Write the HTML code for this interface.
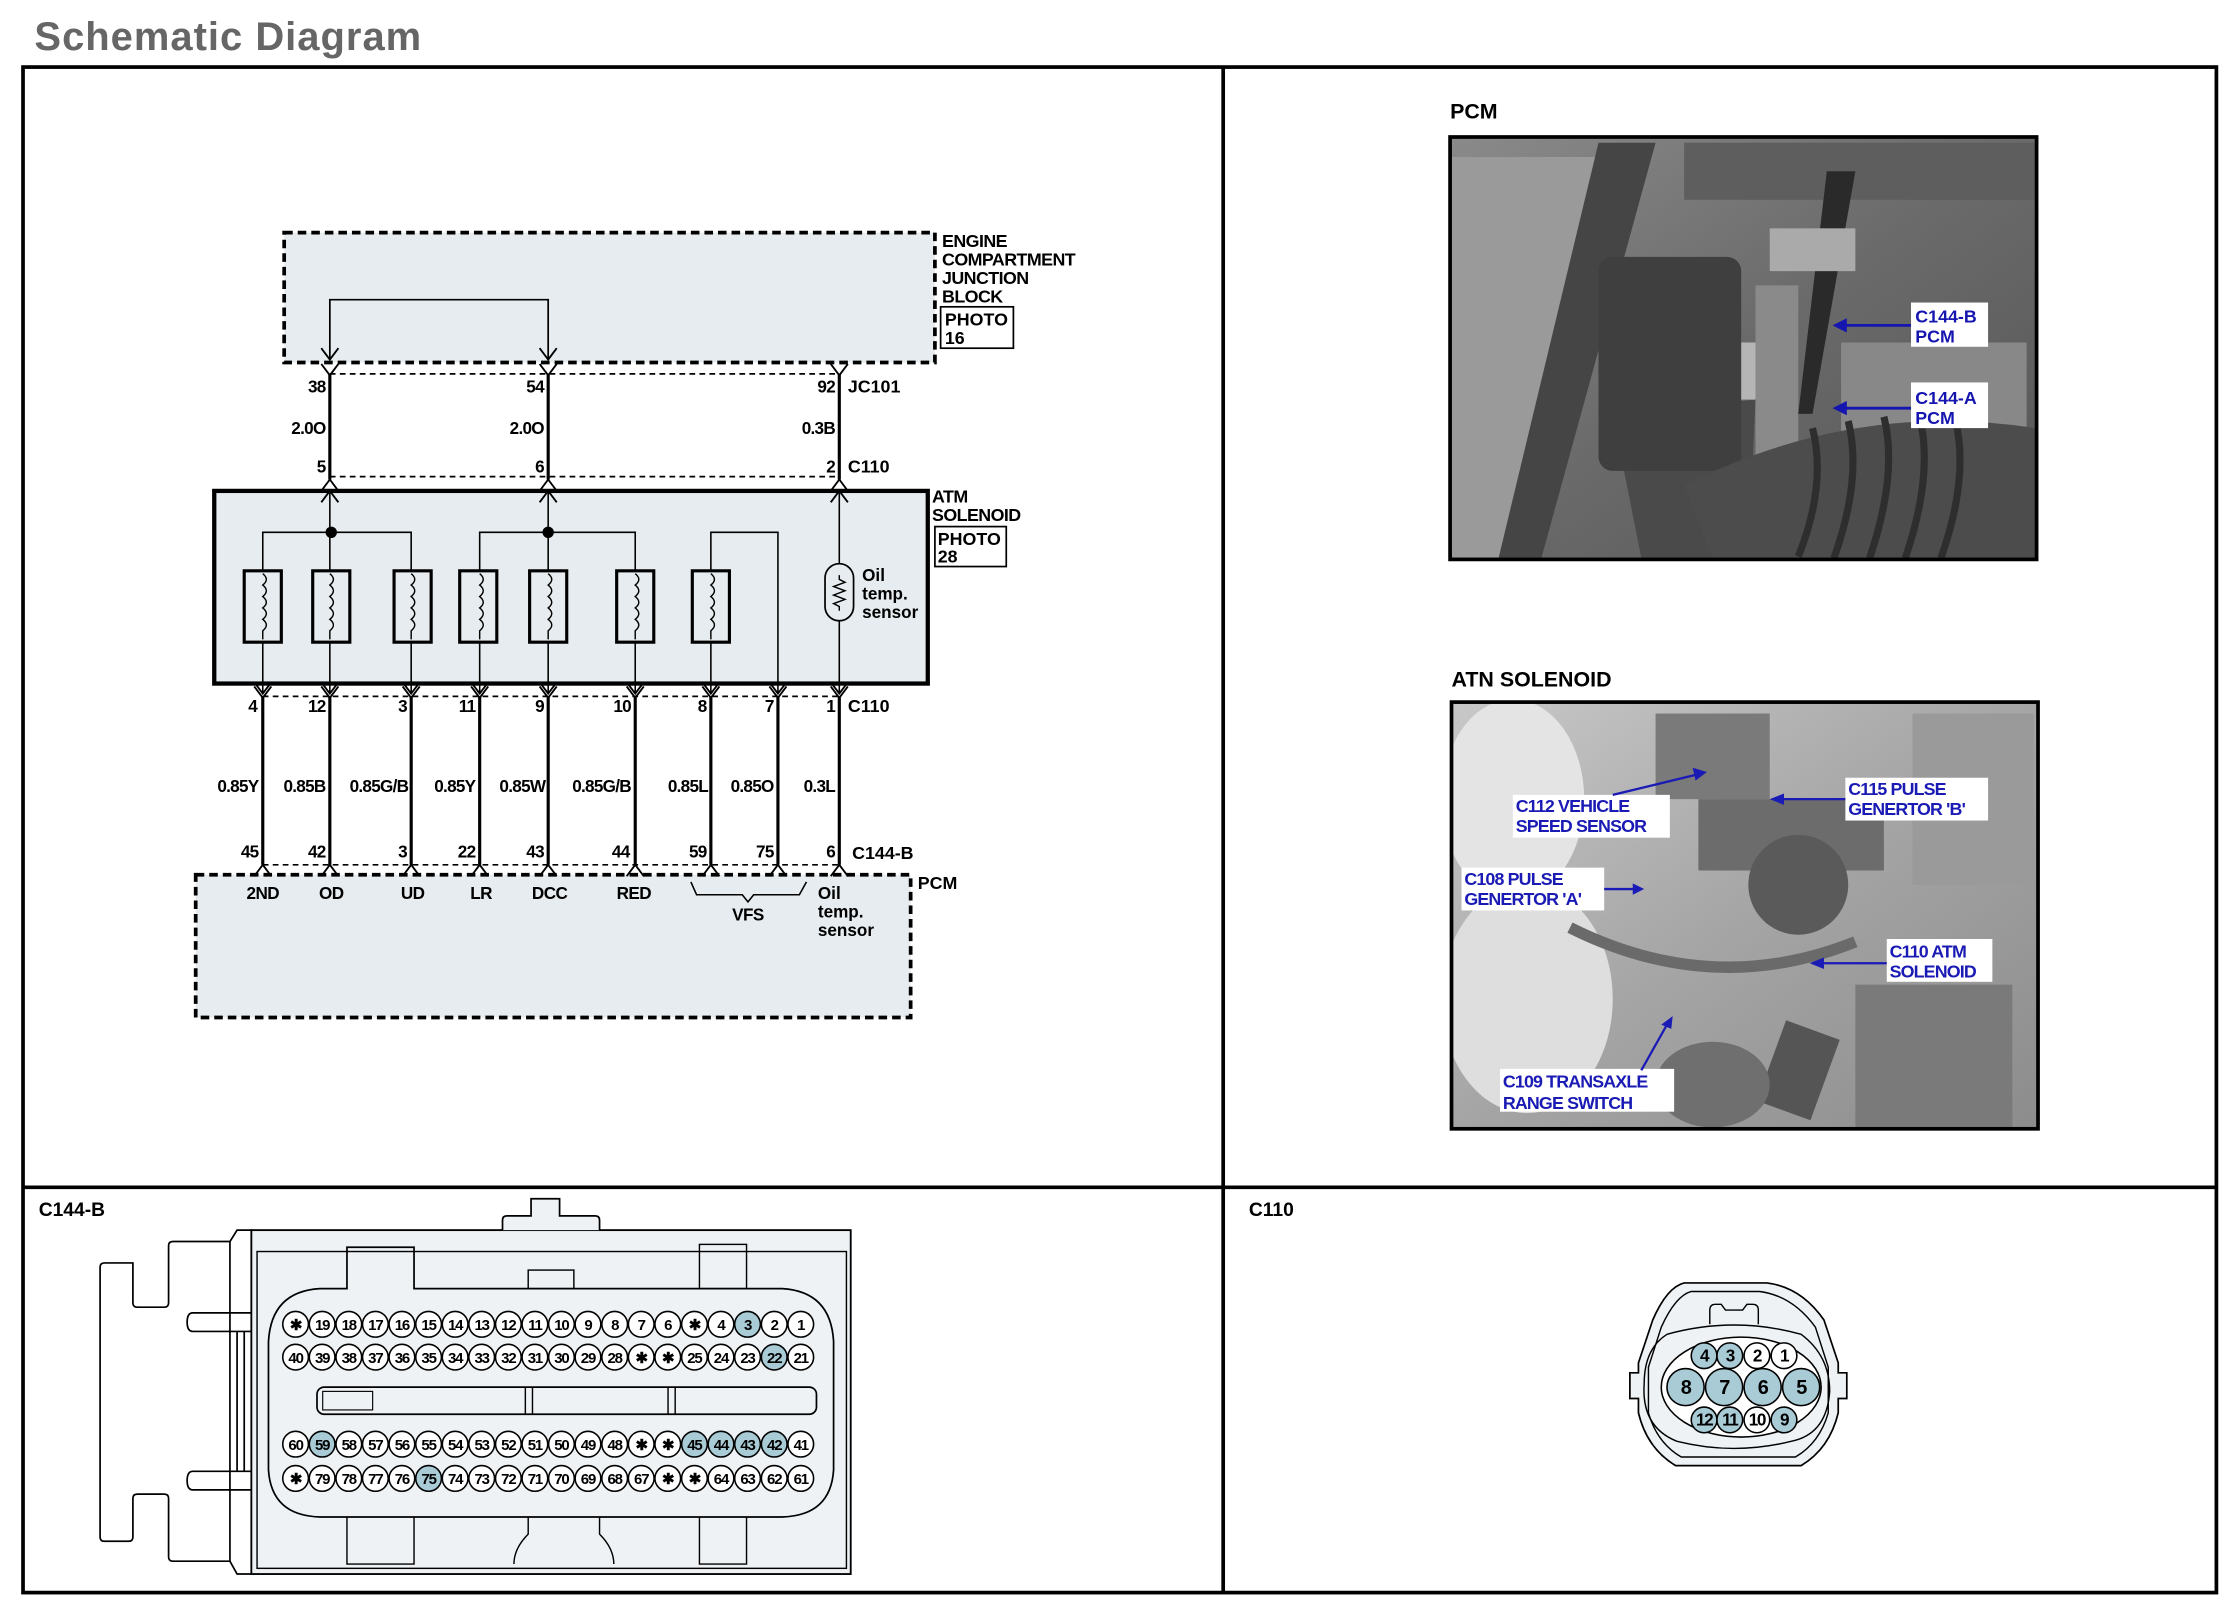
<!DOCTYPE html>
<html><head><meta charset="utf-8"><style>
html,body{margin:0;padding:0;background:#fff;}
svg{display:block;}
</style></head><body>
<svg xmlns="http://www.w3.org/2000/svg" width="2238" height="1614" viewBox="0 0 1568 1131" font-family="Liberation Sans, sans-serif" font-weight="bold">
<rect x="0" y="0" width="1568" height="1131" fill="#fff"/>
<text x="24" y="35" font-size="28" fill="#666" textLength="271">Schematic Diagram</text>
<!-- frames -->
<rect x="16" y="47" width="1537" height="1069" fill="none" stroke="#000" stroke-width="2.6"/>
<line x1="857" y1="47" x2="857" y2="1116" stroke="#000" stroke-width="2.6"/>
<line x1="16" y1="832" x2="1553" y2="832" stroke="#000" stroke-width="2.6"/>

<!-- Junction block -->
<rect x="199" y="163" width="456" height="91" fill="#e6ecef" stroke="#000" stroke-width="2.6" stroke-dasharray="6,3.5"/>
<g font-size="12.5" letter-spacing="-0.4">
<text x="660" y="173">ENGINE</text><text x="660" y="186">COMPARTMENT</text><text x="660" y="199">JUNCTION</text><text x="660" y="212">BLOCK</text>
</g>
<rect x="659" y="215" width="51" height="29" fill="#fff" stroke="#000" stroke-width="1.2"/>
<text x="662" y="228" font-size="12.5">PHOTO</text><text x="662" y="241" font-size="12.5">16</text>
<polyline points="231,252 231,210 384,210 384,252" fill="none" stroke="#000" stroke-width="1.2"/>
<g fill="none" stroke="#000" stroke-width="1.3">
<polyline points="225,244 231,252 237,244"/><polyline points="378,244 384,252 390,244"/>
<polyline points="225,255 231,263 237,255"/><polyline points="378,255 384,263 390,255"/><polyline points="582,255 588,263 594,255"/>
</g>
<line x1="231" y1="262" x2="588" y2="262" stroke="#000" stroke-width="1.2" stroke-dasharray="4,3"/>
<g stroke="#000" stroke-width="2.2"><line x1="231" y1="262" x2="231" y2="336"/><line x1="384" y1="262" x2="384" y2="336"/><line x1="588" y1="262" x2="588" y2="336"/></g>
<g font-size="12" text-anchor="end" letter-spacing="-0.5">
<text x="228" y="275">38</text><text x="381" y="275">54</text><text x="585" y="275">92</text>
<text x="228" y="304">2.0O</text><text x="381" y="304">2.0O</text><text x="585" y="304">0.3B</text>
<text x="228" y="331">5</text><text x="381" y="331">6</text><text x="585" y="331">2</text>
</g>
<text x="594" y="275" font-size="12.5">JC101</text>
<text x="594" y="331" font-size="12.5">C110</text>
<line x1="231" y1="334" x2="588" y2="334" stroke="#000" stroke-width="1.2" stroke-dasharray="4,3"/>

<!-- ATM solenoid -->
<rect x="150" y="344" width="500" height="135" fill="#e6ecef" stroke="#000" stroke-width="3"/>
<g fill="none" stroke="#000" stroke-width="1.3">
<polyline points="225,344 231,336 237,344"/><polyline points="378,344 384,336 390,344"/><polyline points="582,344 588,336 594,344"/>
<polyline points="225,352 231,344 237,352"/><polyline points="378,352 384,344 390,352"/><polyline points="582,352 588,344 594,352"/>
</g>
<g font-size="12.5" letter-spacing="-0.4"><text x="653" y="352">ATM</text><text x="653" y="365">SOLENOID</text></g>
<rect x="655" y="369" width="50" height="28" fill="#fff" stroke="#000" stroke-width="1.2"/>
<text x="657" y="382" font-size="12.5">PHOTO</text><text x="657" y="394" font-size="12.5">28</text>
<g fill="none" stroke="#000" stroke-width="1.1">
<line x1="231" y1="344" x2="231" y2="400"/><line x1="384" y1="344" x2="384" y2="400"/>
<polyline points="184,400 184,373 288,373 288,400"/>
<polyline points="336,400 336,373 445,373 445,400"/>
<polyline points="498,400 498,373 545,373 545,486"/>
<line x1="184" y1="450" x2="184" y2="486"/><line x1="231" y1="450" x2="231" y2="486"/><line x1="288" y1="450" x2="288" y2="486"/><line x1="336" y1="450" x2="336" y2="486"/><line x1="384" y1="450" x2="384" y2="486"/><line x1="445" y1="450" x2="445" y2="486"/><line x1="498" y1="450" x2="498" y2="486"/>
<line x1="588" y1="344" x2="588" y2="486"/>
</g>
<circle cx="232" cy="373" r="4"/><circle cx="384" cy="373" r="4"/>
<g fill="#e6ecef" stroke="#000" stroke-width="2.2">
<rect x="171" y="400" width="26" height="50"/><rect x="219" y="400" width="26" height="50"/><rect x="276" y="400" width="26" height="50"/><rect x="322" y="400" width="26" height="50"/><rect x="371" y="400" width="26" height="50"/><rect x="432" y="400" width="26" height="50"/><rect x="485" y="400" width="26" height="50"/>
</g>
<g fill="none" stroke="#000" stroke-width="1" id="coil">
<path d="M184,402 q5,4 0,8 q5,4 0,8 q5,4 0,8 q5,4 0,8 q5,4 0,8 v6"/>
<path d="M231,402 q5,4 0,8 q5,4 0,8 q5,4 0,8 q5,4 0,8 q5,4 0,8 v6"/>
<path d="M288,402 q5,4 0,8 q5,4 0,8 q5,4 0,8 q5,4 0,8 q5,4 0,8 v6"/>
<path d="M336,402 q5,4 0,8 q5,4 0,8 q5,4 0,8 q5,4 0,8 q5,4 0,8 v6"/>
<path d="M384,402 q5,4 0,8 q5,4 0,8 q5,4 0,8 q5,4 0,8 q5,4 0,8 v6"/>
<path d="M445,402 q5,4 0,8 q5,4 0,8 q5,4 0,8 q5,4 0,8 q5,4 0,8 v6"/>
<path d="M498,402 q5,4 0,8 q5,4 0,8 q5,4 0,8 q5,4 0,8 q5,4 0,8 v6"/>
</g>
<rect x="578" y="395" width="20" height="40" rx="10" fill="#e6ecef" stroke="#000" stroke-width="1.2"/>
<polyline points="588,403 588,406 592,408 584,411 592,414 584,417 592,420 584,423 588,425 588,428" fill="none" stroke="#000" stroke-width="1"/>
<g font-size="12" font-weight="normal" style="font-weight:bold"><text x="604" y="407">Oil</text><text x="604" y="420">temp.</text><text x="604" y="433">sensor</text></g>
<g fill="none" stroke="#000" stroke-width="1.3">
<polyline points="178,478 184,486 190,478"/><polyline points="225,478 231,486 237,478"/><polyline points="282,478 288,486 294,478"/><polyline points="330,478 336,486 342,478"/><polyline points="378,478 384,486 390,478"/><polyline points="439,478 445,486 451,478"/><polyline points="492,478 498,486 504,478"/><polyline points="539,478 545,486 551,478"/><polyline points="582,478 588,486 594,478"/>
<polyline points="178,481 184,489 190,481"/><polyline points="225,481 231,489 237,481"/><polyline points="282,481 288,489 294,481"/><polyline points="330,481 336,489 342,481"/><polyline points="378,481 384,489 390,481"/><polyline points="439,481 445,489 451,481"/><polyline points="492,481 498,489 504,481"/><polyline points="539,481 545,489 551,481"/><polyline points="582,481 588,489 594,481"/>
</g>
<line x1="184" y1="488" x2="588" y2="488" stroke="#000" stroke-width="1.2" stroke-dasharray="4,3"/>
<g stroke="#000" stroke-width="2.2">
<line x1="184" y1="488" x2="184" y2="606"/><line x1="231" y1="488" x2="231" y2="606"/><line x1="288" y1="488" x2="288" y2="606"/><line x1="336" y1="488" x2="336" y2="606"/><line x1="384" y1="488" x2="384" y2="606"/><line x1="445" y1="488" x2="445" y2="606"/><line x1="498" y1="488" x2="498" y2="606"/><line x1="545" y1="488" x2="545" y2="606"/><line x1="588" y1="488" x2="588" y2="606"/>
</g>
<g font-size="12" text-anchor="end" letter-spacing="-0.5">
<text x="180" y="499">4</text><text x="228" y="499">12</text><text x="285" y="499">3</text><text x="333" y="499">11</text><text x="381" y="499">9</text><text x="442" y="499">10</text><text x="495" y="499">8</text><text x="542" y="499">7</text><text x="585" y="499">1</text>
<text x="181" y="555">0.85Y</text><text x="228" y="555">0.85B</text><text x="286" y="555">0.85G/B</text><text x="333" y="555">0.85Y</text><text x="382" y="555">0.85W</text><text x="442" y="555">0.85G/B</text><text x="496" y="555">0.85L</text><text x="542" y="555">0.85O</text><text x="585" y="555">0.3L</text>
<text x="181" y="601">45</text><text x="228" y="601">42</text><text x="285" y="601">3</text><text x="333" y="601">22</text><text x="381" y="601">43</text><text x="441" y="601">44</text><text x="495" y="601">59</text><text x="542" y="601">75</text><text x="585" y="601">6</text>
</g>
<text x="594" y="499" font-size="12.5">C110</text>
<text x="597" y="602" font-size="12.5">C144-B</text>
<line x1="184" y1="606" x2="588" y2="606" stroke="#000" stroke-width="1.2" stroke-dasharray="4,3"/>

<!-- PCM -->
<rect x="137" y="613" width="501" height="100" fill="#e6ecef" stroke="#000" stroke-width="2.6" stroke-dasharray="6,3.5"/>
<g fill="none" stroke="#000" stroke-width="1.3">
<polyline points="178,614 184,606 190,614"/><polyline points="225,614 231,606 237,614"/><polyline points="282,614 288,606 294,614"/><polyline points="330,614 336,606 342,614"/><polyline points="378,614 384,606 390,614"/><polyline points="439,614 445,606 451,614"/><polyline points="492,614 498,606 504,614"/><polyline points="539,614 545,606 551,614"/><polyline points="582,614 588,606 594,614"/>
</g>
<text x="643" y="623" font-size="12.5">PCM</text>
<g font-size="12" text-anchor="middle" letter-spacing="-0.4">
<text x="184" y="630">2ND</text><text x="232" y="630">OD</text><text x="289" y="630">UD</text><text x="337" y="630">LR</text><text x="385" y="630">DCC</text><text x="444" y="630">RED</text><text x="524" y="645">VFS</text>
</g>
<polyline points="484,618 488,627 520,627 524,632 528,627 560,627 565,618" fill="none" stroke="#000" stroke-width="1.1"/>
<g font-size="12"><text x="573" y="630">Oil</text><text x="573" y="643">temp.</text><text x="573" y="656">sensor</text></g>

<!-- PCM photo -->
<text x="1016" y="83" font-size="15">PCM</text>
<defs>
<linearGradient id="g1" x1="0" y1="0" x2="1" y2="1"><stop offset="0" stop-color="#8a8a8a"/><stop offset="0.5" stop-color="#6a6a6a"/><stop offset="1" stop-color="#555"/></linearGradient>
<linearGradient id="g2" x1="0" y1="0" x2="1" y2="1"><stop offset="0" stop-color="#c8c8c8"/><stop offset="0.5" stop-color="#a5a5a5"/><stop offset="1" stop-color="#8c8c8c"/></linearGradient>
<clipPath id="c1"><rect x="1017" y="97" width="409" height="294"/></clipPath>
<clipPath id="c2"><rect x="1018" y="493" width="409" height="297"/></clipPath>
</defs>
<g clip-path="url(#c1)">
<rect x="1016" y="96" width="411" height="296" fill="url(#g1)"/>
<polygon points="1017,110 1130,110 1060,391 1017,391" fill="#9a9a9a"/>
<polygon points="1120,100 1160,100 1080,391 1050,391" fill="#454545"/>
<rect x="1180" y="100" width="246" height="40" fill="#5e5e5e"/>
<polygon points="1130,290 1230,280 1225,391 1150,391" fill="#4a4a4a"/>
<rect x="1190" y="240" width="60" height="40" fill="#b5b5b5"/>
<rect x="1230" y="200" width="30" height="120" fill="#8a8a8a"/>
<path d="M1280,120 l20,0 l-30,170 l-10,0z" fill="#2a2a2a"/>
<rect x="1120" y="180" width="100" height="150" rx="10" fill="#3f3f3f"/>
<rect x="1290" y="240" width="130" height="80" fill="#888"/>
<path d="M1180,340 Q1300,280 1426,300 L1426,391 L1200,391 Z" fill="#4c4c4c"/>
<g stroke="#2e2e2e" stroke-width="5" fill="none"><path d="M1270,300 q10,40 -10,90"/><path d="M1295,295 q10,40 -10,96"/><path d="M1320,292 q10,40 -10,99"/><path d="M1345,292 q10,40 -10,99"/><path d="M1370,294 q10,40 -10,97"/></g>
<rect x="1240" y="160" width="60" height="30" fill="#aaa"/>
</g>
<rect x="1016" y="96" width="411" height="296" fill="none" stroke="#000" stroke-width="2.6"/>
<rect x="1339" y="212" width="54" height="31" fill="#fff"/>
<rect x="1339" y="268" width="54" height="32" fill="#fff"/>
<g fill="#1515b0" font-size="12.5"><text x="1342" y="226">C144-B</text><text x="1342" y="240">PCM</text><text x="1342" y="283">C144-A</text><text x="1342" y="297">PCM</text></g>
<g stroke="#1515b0" stroke-width="2"><line x1="1339" y1="228" x2="1292" y2="228"/><line x1="1339" y1="286" x2="1292" y2="286"/></g>
<g fill="#1515b0"><polygon points="1284,228 1294,223 1294,233"/><polygon points="1284,286 1294,281 1294,291"/></g>

<!-- ATN photo -->
<text x="1017" y="481" font-size="15">ATN SOLENOID</text>
<g clip-path="url(#c2)">
<rect x="1017" y="492" width="411" height="299" fill="url(#g2)"/>
<ellipse cx="1060" cy="560" rx="50" ry="70" fill="#e4e4e4"/>
<ellipse cx="1070" cy="700" rx="60" ry="80" fill="#dedede"/>
<rect x="1160" y="500" width="80" height="60" fill="#7a7a7a"/>
<rect x="1190" y="560" width="130" height="50" fill="#6c6c6c"/>
<circle cx="1260" cy="620" r="35" fill="#5a5a5a"/>
<rect x="1300" y="690" width="110" height="100" fill="#7a7a7a"/>
<rect x="1240" y="720" width="40" height="60" fill="#555" transform="rotate(20 1260 750)"/>
<rect x="1340" y="500" width="85" height="120" fill="#9a9a9a"/>
<path d="M1100,650 Q1200,700 1300,660" stroke="#6a6a6a" stroke-width="8" fill="none"/>
<ellipse cx="1200" cy="760" rx="40" ry="30" fill="#6f6f6f"/>
</g>
<rect x="1017" y="492" width="411" height="299" fill="none" stroke="#000" stroke-width="2.6"/>
<g fill="#fff">
<rect x="1060" y="557" width="110" height="30"/><rect x="1293" y="545" width="100" height="30"/><rect x="1024" y="608" width="100" height="30"/><rect x="1322" y="658" width="74" height="30"/><rect x="1051" y="749" width="122" height="30"/>
</g>
<g fill="#1a1ab5" font-size="12.5" letter-spacing="-0.6">
<text x="1062" y="569">C112 VEHICLE</text><text x="1062" y="583">SPEED SENSOR</text>
<text x="1295" y="557">C115 PULSE</text><text x="1295" y="571">GENERTOR 'B'</text>
<text x="1026" y="620">C108 PULSE</text><text x="1026" y="634">GENERTOR 'A'</text>
<text x="1324" y="671">C110 ATM</text><text x="1324" y="685">SOLENOID</text>
<text x="1053" y="762">C109 TRANSAXLE</text><text x="1053" y="777">RANGE SWITCH</text>
</g>
<g stroke="#1a1ab5" stroke-width="1.6"><line x1="1130" y1="557" x2="1188" y2="543"/><line x1="1293" y1="560" x2="1248" y2="560"/><line x1="1124" y1="623" x2="1145" y2="623"/><line x1="1322" y1="675" x2="1276" y2="675"/><line x1="1150" y1="750" x2="1168" y2="718"/></g>
<g fill="#1a1ab5"><polygon points="1196,541 1186,538 1188,547"/><polygon points="1240,560 1250,556 1250,564"/><polygon points="1152,623 1144,619 1144,627"/><polygon points="1268,675 1278,671 1278,679"/><polygon points="1172,712 1164,718 1171,721"/></g>

<!-- C144-B connector -->
<text x="27" y="852" font-size="13.5">C144-B</text>
<g fill="none" stroke="#000" stroke-width="1.2">
<path d="M73,885 H93 V913 Q93,916 96,916 H115 Q118,916 118,913 V873 Q118,870 121,870 H161 L166,862 H176 V1103 H166 L161,1094 H121 Q118,1094 118,1091 V1050 Q118,1047 115,1047 H96 Q93,1047 93,1050 V1077 Q93,1080 90,1080 H73 Q70,1080 70,1077 V888 Q70,885 73,885 Z"/>
<path d="M176,920 H135 Q131,920 131,926.5 Q131,933 135,933 H176"/>
<path d="M176,1031 H135 Q131,1031 131,1037.5 Q131,1044 135,1044 H176"/>
<line x1="161" y1="870" x2="161" y2="1094"/>
<line x1="166" y1="933" x2="166" y2="1031"/><line x1="171" y1="933" x2="171" y2="1031"/>
</g>
<rect x="176" y="862" width="420" height="241" fill="#eef2f4" stroke="#000" stroke-width="1.3"/>
<rect x="180" y="877" width="413" height="222" fill="none" stroke="#000" stroke-width="1"/>
<path d="M352,862 V855 Q352,852 355,852 H372 V840 H392 V852 H417 Q420,852 420,855 V862" fill="#eef2f4" stroke="#000" stroke-width="1.2"/>
<path d="M224,903 Q190,905 188,940 V1030 Q190,1062 224,1063 H548 Q582,1062 584,1030 V940 Q582,905 548,903 H290 V874 H243 V903 Z" fill="none" stroke="#000" stroke-width="1.2"/>
<rect x="370" y="890" width="32" height="13" fill="none" stroke="#000" stroke-width="1"/>
<rect x="490" y="872" width="33" height="31" fill="none" stroke="#000" stroke-width="1"/>
<path d="M243,1063 V1096 H290 V1063 M370,1063 V1075 Q360,1085 360,1096 M420,1063 V1075 Q430,1085 430,1096 M490,1063 V1096 H523 V1063" fill="none" stroke="#000" stroke-width="1"/>
<rect x="222" y="972" width="350" height="19" rx="5" fill="none" stroke="#000" stroke-width="1.2"/>
<line x1="368" y1="972" x2="368" y2="991" stroke="#000"/><line x1="373" y1="972" x2="373" y2="991" stroke="#000"/>
<line x1="468" y1="972" x2="468" y2="991" stroke="#000"/><line x1="473" y1="972" x2="473" y2="991" stroke="#000"/>
<rect x="226" y="975" width="35" height="13" fill="none" stroke="#000" stroke-width="0.8"/>
<g stroke="#000" stroke-width="1.1" font-size="10.5" text-anchor="middle" letter-spacing="-0.8">
<g fill="#fff">
<circle cx="207" cy="928" r="9"/><circle cx="225.6" cy="928" r="9"/><circle cx="244.3" cy="928" r="9"/><circle cx="262.9" cy="928" r="9"/><circle cx="281.5" cy="928" r="9"/><circle cx="300.2" cy="928" r="9"/><circle cx="318.8" cy="928" r="9"/><circle cx="337.4" cy="928" r="9"/><circle cx="356.1" cy="928" r="9"/><circle cx="374.7" cy="928" r="9"/><circle cx="393.3" cy="928" r="9"/><circle cx="411.9" cy="928" r="9"/><circle cx="430.6" cy="928" r="9"/><circle cx="449.2" cy="928" r="9"/><circle cx="467.8" cy="928" r="9"/><circle cx="486.5" cy="928" r="9"/><circle cx="505.1" cy="928" r="9"/><circle cx="523.7" cy="928" r="9" fill="#a9cbd6"/><circle cx="542.4" cy="928" r="9"/><circle cx="561" cy="928" r="9"/>
<circle cx="207" cy="951" r="9"/><circle cx="225.6" cy="951" r="9"/><circle cx="244.3" cy="951" r="9"/><circle cx="262.9" cy="951" r="9"/><circle cx="281.5" cy="951" r="9"/><circle cx="300.2" cy="951" r="9"/><circle cx="318.8" cy="951" r="9"/><circle cx="337.4" cy="951" r="9"/><circle cx="356.1" cy="951" r="9"/><circle cx="374.7" cy="951" r="9"/><circle cx="393.3" cy="951" r="9"/><circle cx="411.9" cy="951" r="9"/><circle cx="430.6" cy="951" r="9"/><circle cx="449.2" cy="951" r="9"/><circle cx="467.8" cy="951" r="9"/><circle cx="486.5" cy="951" r="9"/><circle cx="505.1" cy="951" r="9"/><circle cx="523.7" cy="951" r="9"/><circle cx="542.4" cy="951" r="9" fill="#a9cbd6"/><circle cx="561" cy="951" r="9"/>
<circle cx="207" cy="1012" r="9"/><circle cx="225.6" cy="1012" r="9" fill="#a9cbd6"/><circle cx="244.3" cy="1012" r="9"/><circle cx="262.9" cy="1012" r="9"/><circle cx="281.5" cy="1012" r="9"/><circle cx="300.2" cy="1012" r="9"/><circle cx="318.8" cy="1012" r="9"/><circle cx="337.4" cy="1012" r="9"/><circle cx="356.1" cy="1012" r="9"/><circle cx="374.7" cy="1012" r="9"/><circle cx="393.3" cy="1012" r="9"/><circle cx="411.9" cy="1012" r="9"/><circle cx="430.6" cy="1012" r="9"/><circle cx="449.2" cy="1012" r="9"/><circle cx="467.8" cy="1012" r="9"/><circle cx="486.5" cy="1012" r="9" fill="#a9cbd6"/><circle cx="505.1" cy="1012" r="9" fill="#a9cbd6"/><circle cx="523.7" cy="1012" r="9" fill="#a9cbd6"/><circle cx="542.4" cy="1012" r="9" fill="#a9cbd6"/><circle cx="561" cy="1012" r="9"/>
<circle cx="207" cy="1036" r="9"/><circle cx="225.6" cy="1036" r="9"/><circle cx="244.3" cy="1036" r="9"/><circle cx="262.9" cy="1036" r="9"/><circle cx="281.5" cy="1036" r="9"/><circle cx="300.2" cy="1036" r="9" fill="#a9cbd6"/><circle cx="318.8" cy="1036" r="9"/><circle cx="337.4" cy="1036" r="9"/><circle cx="356.1" cy="1036" r="9"/><circle cx="374.7" cy="1036" r="9"/><circle cx="393.3" cy="1036" r="9"/><circle cx="411.9" cy="1036" r="9"/><circle cx="430.6" cy="1036" r="9"/><circle cx="449.2" cy="1036" r="9"/><circle cx="467.8" cy="1036" r="9"/><circle cx="486.5" cy="1036" r="9"/><circle cx="505.1" cy="1036" r="9"/><circle cx="523.7" cy="1036" r="9"/><circle cx="542.4" cy="1036" r="9"/><circle cx="561" cy="1036" r="9"/>
</g>
<g fill="#000" stroke="none">
<text x="207" y="932">✱</text><text x="225.6" y="932">19</text><text x="244.3" y="932">18</text><text x="262.9" y="932">17</text><text x="281.5" y="932">16</text><text x="300.2" y="932">15</text><text x="318.8" y="932">14</text><text x="337.4" y="932">13</text><text x="356.1" y="932">12</text><text x="374.7" y="932">11</text><text x="393.3" y="932">10</text><text x="411.9" y="932">9</text><text x="430.6" y="932">8</text><text x="449.2" y="932">7</text><text x="467.8" y="932">6</text><text x="486.5" y="932">✱</text><text x="505.1" y="932">4</text><text x="523.7" y="932">3</text><text x="542.4" y="932">2</text><text x="561" y="932">1</text>
<text x="207" y="955">40</text><text x="225.6" y="955">39</text><text x="244.3" y="955">38</text><text x="262.9" y="955">37</text><text x="281.5" y="955">36</text><text x="300.2" y="955">35</text><text x="318.8" y="955">34</text><text x="337.4" y="955">33</text><text x="356.1" y="955">32</text><text x="374.7" y="955">31</text><text x="393.3" y="955">30</text><text x="411.9" y="955">29</text><text x="430.6" y="955">28</text><text x="449.2" y="955">✱</text><text x="467.8" y="955">✱</text><text x="486.5" y="955">25</text><text x="505.1" y="955">24</text><text x="523.7" y="955">23</text><text x="542.4" y="955">22</text><text x="561" y="955">21</text>
<text x="207" y="1016">60</text><text x="225.6" y="1016">59</text><text x="244.3" y="1016">58</text><text x="262.9" y="1016">57</text><text x="281.5" y="1016">56</text><text x="300.2" y="1016">55</text><text x="318.8" y="1016">54</text><text x="337.4" y="1016">53</text><text x="356.1" y="1016">52</text><text x="374.7" y="1016">51</text><text x="393.3" y="1016">50</text><text x="411.9" y="1016">49</text><text x="430.6" y="1016">48</text><text x="449.2" y="1016">✱</text><text x="467.8" y="1016">✱</text><text x="486.5" y="1016">45</text><text x="505.1" y="1016">44</text><text x="523.7" y="1016">43</text><text x="542.4" y="1016">42</text><text x="561" y="1016">41</text>
<text x="207" y="1040">✱</text><text x="225.6" y="1040">79</text><text x="244.3" y="1040">78</text><text x="262.9" y="1040">77</text><text x="281.5" y="1040">76</text><text x="300.2" y="1040">75</text><text x="318.8" y="1040">74</text><text x="337.4" y="1040">73</text><text x="356.1" y="1040">72</text><text x="374.7" y="1040">71</text><text x="393.3" y="1040">70</text><text x="411.9" y="1040">69</text><text x="430.6" y="1040">68</text><text x="449.2" y="1040">67</text><text x="467.8" y="1040">✱</text><text x="486.5" y="1040">✱</text><text x="505.1" y="1040">64</text><text x="523.7" y="1040">63</text><text x="542.4" y="1040">62</text><text x="561" y="1040">61</text>
</g>
</g>

<!-- C110 connector -->
<text x="875" y="852" font-size="13.5">C110</text>
<path d="M1180,899 H1238 Q1262,902 1278,925 L1288,955 V962 H1294 V980 H1288 V990 Q1282,1015 1262,1027 H1174 Q1154,1015 1148,990 V980 H1142 V962 H1148 V955 L1158,925 Q1168,902 1180,899 Z" fill="#eef2f4" stroke="#000" stroke-width="1.2"/>
<path d="M1185,905 H1233 Q1256,908 1272,930 L1281,958 V990 Q1275,1011 1258,1021 H1178 Q1161,1011 1155,990 V958 L1164,930 Q1174,908 1185,905 Z" fill="none" stroke="#000" stroke-width="1"/>
<path d="M1198,928 V918 Q1198,914 1202,914 H1206 L1209,918 H1221 L1224,914 H1228 Q1232,914 1232,918 V928" fill="none" stroke="#000" stroke-width="1"/>
<path d="M1168,935 Q1215,922 1262,935 Q1282,950 1282,975 Q1280,1005 1255,1010 Q1215,1020 1175,1010 Q1150,1000 1152,970 Q1152,945 1168,935 Z" fill="none" stroke="#000" stroke-width="1"/>
<ellipse cx="1220" cy="972" rx="56" ry="35" fill="#fff" stroke="#000" stroke-width="1.1"/>
<g stroke="#000" stroke-width="1.1">
<g fill="#a9cbd6"><circle cx="1194" cy="950" r="9"/><circle cx="1212" cy="950" r="9"/><circle cx="1194" cy="995" r="9"/><circle cx="1212" cy="995" r="9"/><circle cx="1250" cy="995" r="9"/>
<circle cx="1181" cy="972" r="13"/><circle cx="1208" cy="972" r="13"/><circle cx="1235" cy="972" r="13"/><circle cx="1262" cy="972" r="13"/></g>
<g fill="#fff"><circle cx="1231" cy="950" r="9"/><circle cx="1250" cy="950" r="9"/><circle cx="1231" cy="995" r="9"/></g>
</g>
<g font-size="12" text-anchor="middle" letter-spacing="-1">
<text x="1194" y="954">4</text><text x="1212" y="954">3</text><text x="1231" y="954">2</text><text x="1250" y="954">1</text>
<text x="1181" y="977" font-size="14">8</text><text x="1208" y="977" font-size="14">7</text><text x="1235" y="977" font-size="14">6</text><text x="1262" y="977" font-size="14">5</text>
<text x="1194" y="999">12</text><text x="1212" y="999">11</text><text x="1231" y="999">10</text><text x="1250" y="999">9</text>
</g>
</svg>
</body></html>
